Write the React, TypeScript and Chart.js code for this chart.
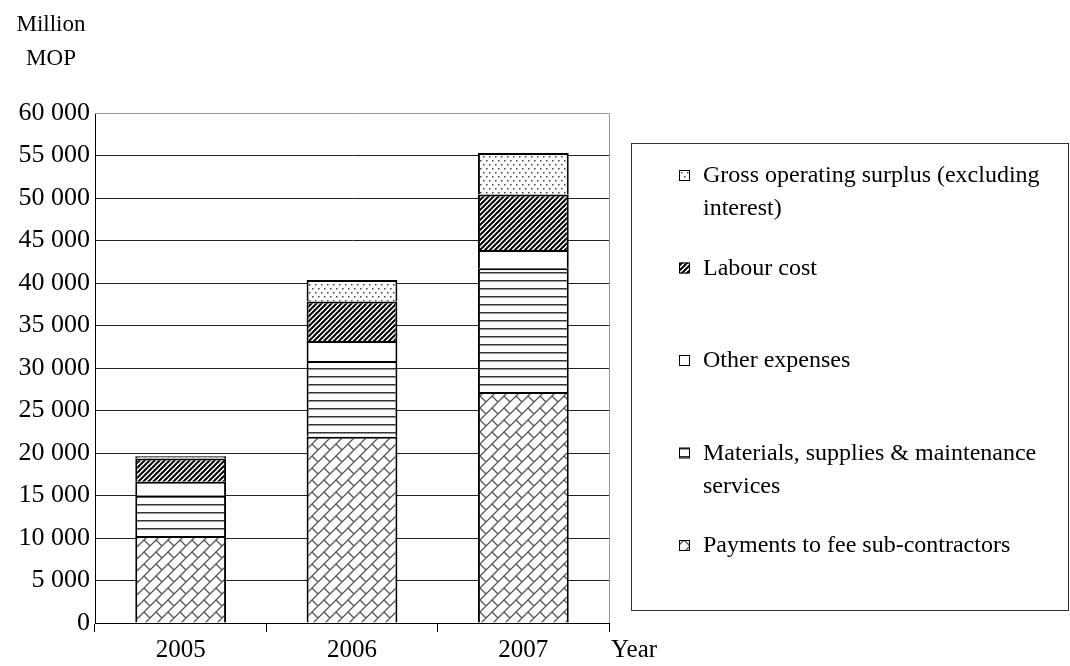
import React, { useEffect, useRef } from "react";
import { Chart, registerables } from "chart.js";

Chart.register(...registerables);

const years = ["2005", "2006", "2007"];
const payments = [10250, 21900, 27170];
const materials = [4720, 8920, 14560];
const otherExpenses = [1660, 2360, 2160];
const labour = [2710, 4650, 6530];
const grossSurplus = [270, 2510, 4880];

const seriesNames = [
  "Payments to fee sub-contractors",
  "Materials, supplies & maintenance services",
  "Other expenses",
  "Labour cost",
  "Gross operating surplus (excluding interest)",
];
// legend rows, top to bottom (series index + wrapped text lines)
const legendRows: { series: number; lines: string[] }[] = [
  { series: 4, lines: ["Gross operating surplus (excluding", "interest)"] },
  { series: 3, lines: ["Labour cost"] },
  { series: 2, lines: ["Other expenses"] },
  { series: 1, lines: ["Materials, supplies & maintenance", "services"] },
  { series: 0, lines: ["Payments to fee sub-contractors"] },
];
const yUnitLines = ["Million", "MOP"];
const xUnit = "Year";

const FONT = "'Liberation Serif', 'Times New Roman', serif";

function tile(w: number, h: number, draw: (c: CanvasRenderingContext2D) => void) {
  const c = document.createElement("canvas");
  c.width = w;
  c.height = h;
  const ctx = c.getContext("2d")!;
  ctx.fillStyle = "#fff";
  ctx.fillRect(0, 0, w, h);
  draw(ctx);
  return c;
}

function makePatterns(ctx: CanvasRenderingContext2D) {
  const brick = tile(12, 12, (c) => {
    c.strokeStyle = "#555";
    c.lineWidth = 1.3;
    c.beginPath();
    for (let k = -2; k <= 3; k++) {
      const s = 12 * k;
      c.moveTo(s + 30, -30);
      c.lineTo(s - 30, 30);
      for (let m = -3; m <= 3; m++) {
        const d = 24 * m + 12 * (((k % 2) + 2) % 2);
        const s1 = s, s2 = s + 12;
        c.moveTo((s1 + d) / 2, (s1 - d) / 2);
        c.lineTo((s2 + d) / 2, (s2 - d) / 2);
      }
    }
    c.stroke();
  });
  const hlines = tile(4, 8, (c) => {
    c.fillStyle = "#333";
    c.fillRect(0, 0, 4, 1);
    c.fillStyle = "#999";
    c.fillRect(0, 1, 4, 1);
  });
  const stripes = tile(5, 5, (c) => {
    c.strokeStyle = "#000";
    c.lineWidth = 2;
    c.beginPath();
    for (let k = -1; k <= 3; k++) {
      c.moveTo(5 * k + 10, -10);
      c.lineTo(5 * k - 10, 10);
    }
    c.stroke();
  });
  const dots = tile(6, 8, (c) => {
    c.fillStyle = "#444";
    c.fillRect(0, 0, 1.5, 1.5);
    c.fillRect(3, 4, 1.5, 1.5);
  });
  return [
    ctx.createPattern(brick, "repeat")!,
    ctx.createPattern(hlines, "repeat")!,
    "#ffffff" as any,
    ctx.createPattern(stripes, "repeat")!,
    ctx.createPattern(dots, "repeat")!,
  ];
}

export default function App() {
  const ref = useRef<HTMLCanvasElement>(null);
  useEffect(() => {
    const canvas = ref.current!;
    const ctx0 = canvas.getContext("2d")!;
    const fills = makePatterns(ctx0);
    const values = [payments, materials, otherExpenses, labour, grossSurplus];

    const overlay = {
      id: "overlay",
      afterDraw(chart: any) {
        const ctx = chart.ctx as CanvasRenderingContext2D;
        const a = chart.chartArea;
        ctx.save();
        // plot frame (top & right)
        ctx.strokeStyle = "#999";
        ctx.lineWidth = 1;
        ctx.beginPath();
        ctx.moveTo(a.left, Math.round(a.top) + 0.5);
        ctx.lineTo(Math.round(a.right) + 0.5, Math.round(a.top) + 0.5);
        ctx.lineTo(Math.round(a.right) + 0.5, a.bottom);
        ctx.stroke();

        ctx.fillStyle = "#000";
        ctx.textBaseline = "middle";
        // y unit
        ctx.font = `23px ${FONT}`;
        ctx.textAlign = "center";
        yUnitLines.forEach((t, i) => ctx.fillText(t, 51, 25 + i * 34));
        // x unit
        ctx.font = `25px ${FONT}`;
        const xs = chart.scales.x;
        ctx.textAlign = "left";
        ctx.fillText(xUnit, a.right + 2, xs.top + 9 + 3 + 15);

        // legend box
        ctx.font = `24px ${FONT}`;
        ctx.strokeStyle = "#333";
        ctx.strokeRect(631.5, 143.5, 437, 467);
        legendRows.forEach((row, i) => {
          const y0 = 176 + i * 92.5;
          ctx.fillStyle = fills[row.series] as any;
          ctx.fillRect(679, y0 - 6, 11, 11);
          ctx.strokeStyle = "#000";
          ctx.lineWidth = 1;
          ctx.strokeRect(679.5, y0 - 5.5, 10, 10);
          ctx.fillStyle = "#000";
          row.lines.forEach((t, j) => ctx.fillText(t, 703, y0 + j * 33));
        });
        ctx.restore();
      },
    };

    const chart = new Chart(canvas, {
      type: "bar",
      data: {
        labels: years,
        datasets: values.map((v, i) => ({
          label: seriesNames[i],
          data: v,
          backgroundColor: fills[i],
          borderColor: "#000",
          borderWidth: 2,
          barPercentage: 0.53,
          categoryPercentage: 1,
        })),
      },
      options: {
        responsive: false,
        animation: false,
        layout: { padding: { top: 113, right: 461, bottom: 0, left: 0 } },
        plugins: { legend: { display: false }, tooltip: { enabled: false } },
        scales: {
          x: {
            stacked: true,
            afterFit: (s: any) => {
              s.height = 43;
            },
            grid: {
              display: true,
              drawOnChartArea: false,
              drawTicks: true,
              tickLength: 9,
              color: "#000",
              offset: true,
            },
            border: { display: true, color: "#000", width: 1 },
            ticks: { color: "#000", font: { family: FONT, size: 25 }, padding: 3, maxRotation: 0 },
          },
          y: {
            stacked: true,
            min: 0,
            max: 60000,
            afterFit: (s: any) => {
              s.width = 95;
            },
            grid: { color: "#222", drawTicks: false, lineWidth: 1 },
            border: { display: true, color: "#000", width: 1 },
            ticks: {
              stepSize: 5000,
              color: "#000",
              padding: 5,
              font: { family: FONT, size: 26 },
              callback: (v: any) => String(v).replace(/\B(?=(\d{3})+(?!\d))/g, " "),
            },
          },
        },
      },
      plugins: [overlay],
    });
    return () => chart.destroy();
  }, []);
  return (
    <div style={{ position: "absolute", left: 0, top: 0, width: 1070, height: 666, background: "#fff" }}>
      <canvas ref={ref} width={1070} height={666} style={{ display: "block" }} />
    </div>
  );
}
